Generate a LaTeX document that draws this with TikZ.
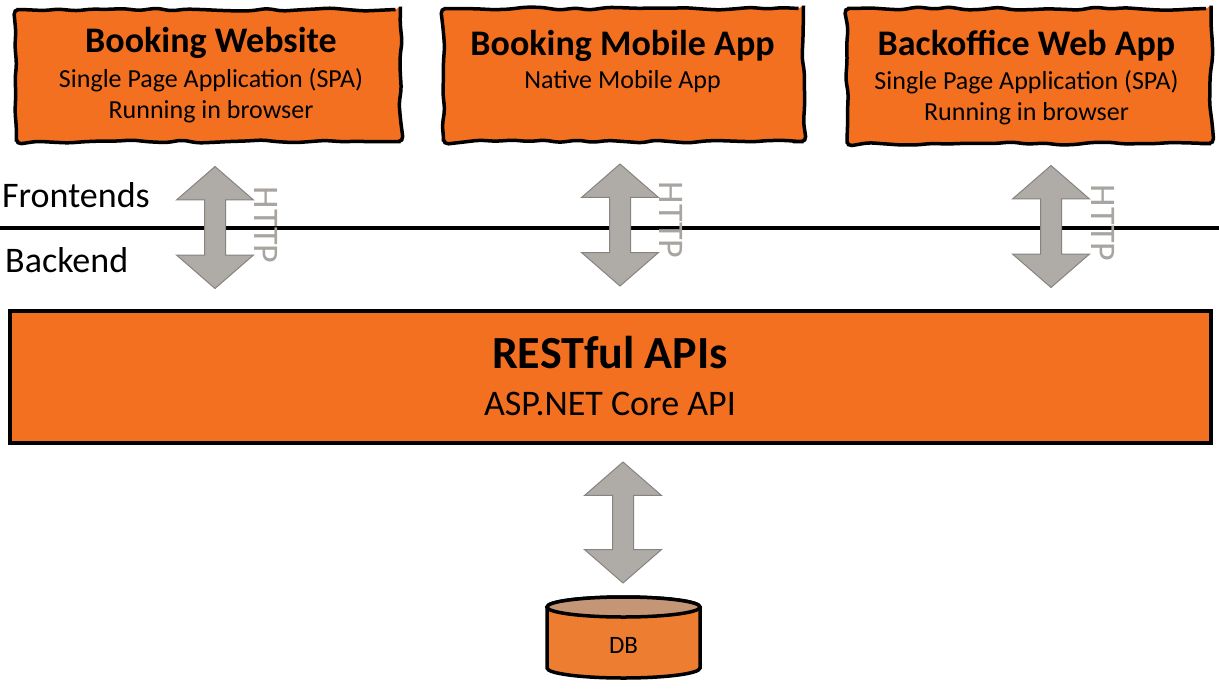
\documentclass[tikz,border=0pt]{standalone}
\usepackage{fontspec}
\setmainfont{Carlito}
\usepackage{tikz}
\usetikzlibrary{shapes.arrows, decorations.pathmorphing}

\definecolor{apporange}{RGB}{243,112,33}
\definecolor{dborange}{RGB}{237,125,49}
\definecolor{dbtop}{RGB}{196,150,118}
\definecolor{arrowgray}{RGB}{175,171,167}
\definecolor{arrowedge}{RGB}{135,131,128}
\definecolor{httpgray}{RGB}{168,164,160}

\begin{document}
\begin{tikzpicture}[x=1pt, y=-1pt,
  appbox/.style = {draw, fill=apporange, line width=3.5pt, inner sep=0pt,
    decorate, decoration={random steps, segment length=16pt, amplitude=1.6pt},
    rounded corners=5pt},
  apptitle/.style = {font=\fontsize{36}{36}\selectfont\bfseries, anchor=base, inner sep=0pt},
  appsub/.style = {font=\fontsize{26}{31}\selectfont, align=center, anchor=base, inner sep=0pt},
  layer/.style = {font=\fontsize{36}{36}\selectfont, anchor=base west, inner sep=0pt},
  bigarrow/.style = {double arrow, draw=arrowedge, fill=arrowgray, line width=1pt,
    rotate=90, minimum height=122pt, minimum width=76pt, inner xsep=0pt, inner ysep=10pt,
    double arrow head extend=28pt, double arrow tip angle=98, double arrow head indent=0pt},
  http/.style = {font=\fontsize{36}{36}\selectfont, text=httpgray, rotate=-90, inner sep=0pt}]
\useasboundingbox (0,0) rectangle (1219,694);
\pgfmathsetseed{12}

% frontends
\node[appbox, minimum width=384pt, minimum height=132pt] (web) at (208.5,75.5) {};
\node[appbox, minimum width=360pt, minimum height=133pt] (mobile) at (623.5,75) {};
\node[appbox, minimum width=364pt, minimum height=135pt] (office) at (1029,76) {};
\node[apptitle] (webtitle) at (211,52) {Booking Website};
\node[appsub] (websub) at (211,118) {Single Page Application (SPA)\\Running in browser};
\node[apptitle] (mobiletitle) at (622.5,55) {Booking Mobile App};
\node[appsub] (mobilesub) at (622.5,88) {Native Mobile App};
\node[apptitle] (officetitle) at (1026.5,55) {Backoffice Web App};
\node[appsub] (officesub) at (1026.5,120) {Single Page Application (SPA)\\Running in browser};

% layers
\coordinate (sepL) at (0,228);
\coordinate (sepR) at (1219,228);
\draw[line width=4pt] (sepL) -- (sepR);
\node[layer] (front) at (2,207) {Frontends};
\node[layer] (back) at (5,272) {Backend};

% backend
\node[draw, fill=apporange, line width=4pt, minimum width=1201pt, minimum height=132pt] (api) at (610.5,377) {};
\node[font=\fontsize{46}{46}\selectfont\bfseries, anchor=base, inner sep=0pt] (apititle) at (610,368) {RESTful APIs};
\node[font=\fontsize{36}{36}\selectfont, anchor=base, inner sep=0pt] (apisub) at (610,415) {ASP.NET Core API};

% http arrows
\node[bigarrow] (webarrow) at (215,227.5) {};
\node[bigarrow] (mobilearrow) at (620,225) {};
\node[bigarrow] (officearrow) at (1051,226.5) {};
\node[http] (webhttp) at (266.5,225) {HTTP};
\node[http] (mobilehttp) at (671,220) {HTTP};
\node[http] (officehttp) at (1103,223) {HTTP};

% database
\node[bigarrow, minimum height=121pt] (dbarrow) at (623,522.5) {};
\draw[fill=dborange, line width=3.5pt] (547,607) -- (547,668)
  arc[start angle=180, end angle=360, x radius=76.5pt, y radius=10pt] -- (700,607)
  arc[start angle=0, end angle=180, x radius=76.5pt, y radius=10pt] -- cycle;
\draw[fill=dbtop, line width=3.5pt] (623.5,607) ellipse [x radius=76.5pt, y radius=10pt];
\node[font=\fontsize{25}{25}\selectfont, inner sep=0pt] (db) at (623.5,645) {DB};
\end{tikzpicture}
\end{document}
